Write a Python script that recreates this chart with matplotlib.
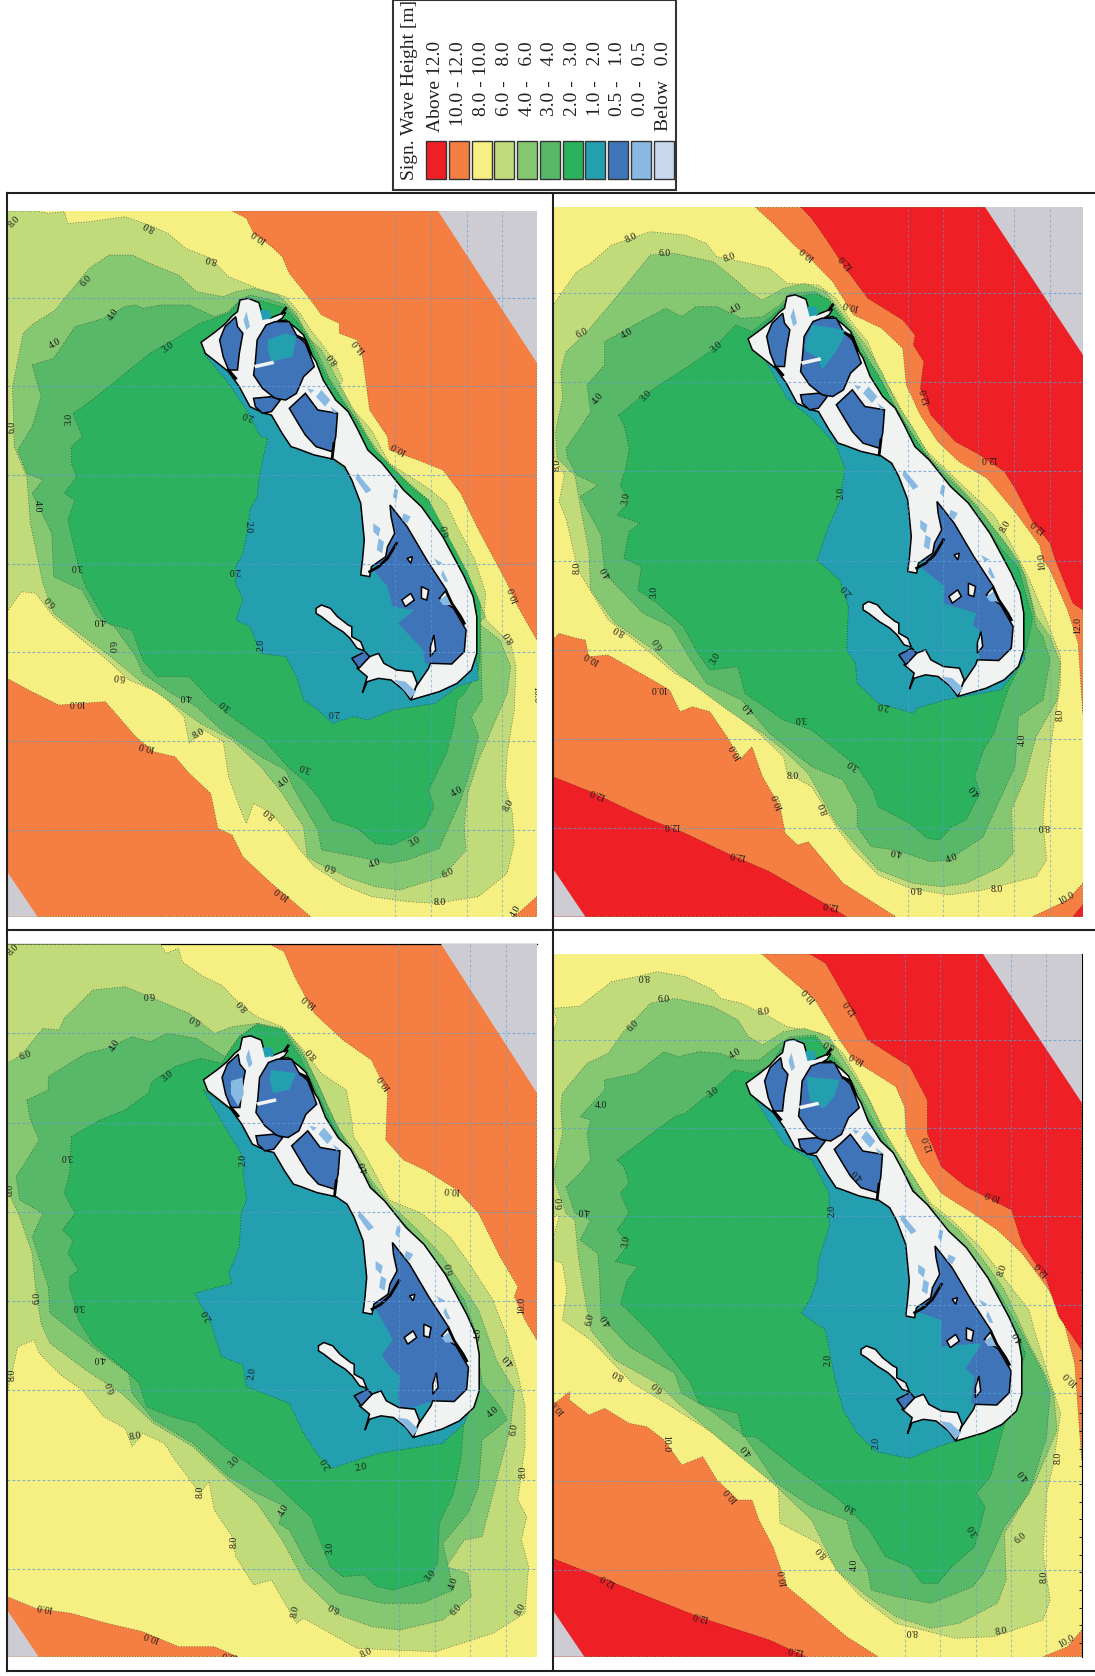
# plot.py
# Significant wave height maps, four scenarios, with a shared legend

import matplotlib
matplotlib.use('Agg')
import matplotlib.pyplot as plt
from matplotlib.patches import Polygon, Rectangle

plt.rcParams['font.family'] = ['Liberation Serif', 'DejaVu Serif']

# --- Legend ---
legend_title = 'Sign. Wave Height [m]'
legend_labels = ['Above 12.0', '10.0 - 12.0', '8.0 - 10.0', '6.0 -   8.0', '4.0 -   6.0', '3.0 -   4.0',
                 '2.0 -   3.0', '1.0 -   2.0', '0.5 -   1.0', '0.0 -   0.5', 'Below   0.0']
legend_colors = ['#ee1f25', '#f57e43', '#f6f083', '#c1db7a', '#86c872', '#57b968',
                 '#2cb25e', '#249fb0', '#3f74b9', '#88b9e2', '#c8d9ef']
RED, ORANGE, YELLOW, H68, H46, H34, H23, H12, BLUE, LIGHT, PALE = legend_colors
GRAY = '#cdccd2'
LAND = '#f1f2f2'

# --- Panel 1 contours (map grid units) ---
p1_limits = (20, 1503, 93, 2210)
p1_gray = [[(1225, 93), (1503, 93), (1503, 548)],
           [(20, 2075), (105, 2210), (20, 2210)]]
p1_orange = [[(650, 93), (690, 115), (710, 160), (760, 200), (790, 230), (810, 280), (870, 360), (900, 405),
              (950, 430), (950, 460), (1000, 480), (1015, 530), (1025, 610), (1035, 690), (1085, 770), (1090, 810),
              (1170, 840), (1240, 870), (1290, 940), (1340, 1050), (1380, 1130), (1420, 1210), (1450, 1280),
              (1503, 1380), (1503, 93)],
             [(20, 1495), (80, 1530), (165, 1575), (295, 1565), (380, 1670), (430, 1715), (490, 1730), (530, 1780),
              (590, 1840), (610, 1945), (650, 1965), (680, 2030), (760, 2110), (870, 2210), (20, 2210)],
             [(1503, 2150), (1440, 2210), (1503, 2210)]]
p1_red = []
p1_68 = [(20, 93), (105, 93), (135, 100), (180, 95), (190, 130), (250, 125), (350, 110), (430, 140), (470, 160),
         (520, 205), (590, 235), (640, 290), (720, 325), (800, 350), (840, 400), (870, 450), (900, 490), (940, 550),
         (960, 600), (940, 640), (990, 690), (1040, 750), (1070, 810), (1090, 850), (1200, 925), (1250, 970),
         (1280, 1040), (1330, 1140), (1360, 1240), (1355, 1310), (1370, 1330), (1430, 1390), (1445, 1460),
         (1440, 1590), (1420, 1720), (1415, 1820), (1435, 1900), (1440, 1990), (1420, 2080), (1340, 2150),
         (1220, 2170), (1140, 2165), (1040, 2150), (960, 2115), (880, 2060), (840, 2010), (800, 1950), (760, 1900),
         (710, 1870), (690, 1930), (670, 1880), (640, 1790), (625, 1685), (570, 1650), (530, 1690), (515, 1610),
         (450, 1540), (360, 1500), (300, 1440), (230, 1380), (150, 1310), (100, 1240), (60, 1235), (20, 1295)]
p1_46 = [(305, 225), (370, 225), (430, 255), (500, 285), (550, 335), (625, 350), (660, 335), (710, 325), (780, 345),
         (830, 400), (860, 470), (900, 510), (950, 610), (990, 690), (1030, 770), (1070, 830), (1100, 860),
         (1200, 980), (1230, 1060), (1290, 1170), (1330, 1240), (1360, 1310), (1340, 1330), (1400, 1380),
         (1430, 1460), (1420, 1540), (1380, 1640), (1340, 1740), (1310, 1840), (1300, 1940), (1305, 2010),
         (1240, 2090), (1120, 2130), (1050, 2120), (980, 2095), (900, 2055), (860, 2030), (850, 1940), (790, 1840),
         (730, 1760), (650, 1680), (560, 1630), (490, 1575), (400, 1510), (310, 1430), (210, 1350), (150, 1300),
         (120, 1210), (85, 1030), (75, 890), (40, 800), (35, 620), (50, 540), (65, 460), (95, 430), (155, 390),
         (185, 350), (250, 265)]
p1_34 = [(90, 555), (150, 535), (210, 440), (290, 415), (350, 380), (380, 375), (400, 385), (450, 375), (530, 375),
         (600, 410), (640, 395), (670, 360), (700, 345), (760, 360), (800, 375), (830, 410), (860, 460), (890, 520),
         (920, 590), (960, 660), (1000, 720), (1040, 800), (1080, 850), (1200, 960), (1240, 1060), (1300, 1180),
         (1340, 1260), (1345, 1320), (1350, 1560), (1320, 1610), (1340, 1670), (1320, 1760), (1290, 1860),
         (1240, 1980), (1230, 2005), (1140, 2040), (1090, 2050), (1000, 2030), (900, 2010), (890, 1950), (820, 1820),
         (800, 1770), (730, 1730), (620, 1650), (550, 1580), (480, 1540), (400, 1480), (380, 1430), (320, 1340),
         (270, 1310), (230, 1230), (150, 1190), (145, 1060), (90, 940), (120, 900), (75, 880), (50, 810), (90, 740),
         (115, 650)]
p1_23 = [(205, 700), (270, 650), (350, 580), (420, 520), (500, 470), (560, 430), (640, 400), (680, 355), (740, 365),
         (800, 385), (835, 430), (860, 470), (885, 530), (920, 600), (970, 680), (1010, 740), (1050, 810), (1090, 855),
         (1160, 930), (1200, 960), (1250, 1060), (1310, 1180), (1345, 1270), (1345, 1400), (1340, 1470), (1300, 1540),
         (1280, 1560), (1270, 1640), (1250, 1720), (1200, 1830), (1215, 1880), (1190, 1940), (1150, 1970), (1100, 1995),
         (1050, 1990), (1000, 1945), (930, 1920), (890, 1850), (850, 1800), (810, 1765), (740, 1680), (660, 1620),
         (590, 1560), (530, 1490), (440, 1490), (400, 1440), (370, 1350), (300, 1330), (240, 1220), (220, 1160),
         (190, 1020), (210, 960), (180, 940), (215, 890), (200, 850), (200, 800), (230, 770)]
p1_12 = [(570, 520), (640, 610), (690, 690), (730, 770), (750, 775), (735, 840), (725, 900), (720, 950), (700, 990),
         (695, 1040), (680, 1120), (660, 1160), (660, 1210), (680, 1260), (660, 1320), (700, 1340), (730, 1420),
         (800, 1430), (830, 1490), (850, 1560), (890, 1590), (930, 1630), (990, 1610), (1030, 1620), (1100, 1590),
         (1220, 1570), (1280, 1520), (1340, 1500), (1330, 1400), (1100, 1000), (930, 835), (640, 560)]
p1_xgrid = [1107, 1207, 1307, 1405]
p1_ygrid = [353, 619, 885, 1151, 1417, 1683, 1949]
p1_labels = [(40, 125, '8.0', 45), (418, 137, '8.0', 150), (725, 168, '10.0', 145), (592, 235, '8.0', 165),
             (240, 303, '6.0', 45), (318, 402, '4.0', 55), (155, 490, '4.0', 30), (472, 502, '3.0', 35),
             (1005, 500, '11.0', 130), (932, 535, '8.0', 125), (1115, 805, '10.0', 150), (35, 740, '6.0', 90),
             (192, 718, '3.0', 90), (695, 705, '2.0', 160), (105, 978, '4.0', 270), (143, 1262, '6.0', 130),
             (215, 1160, '3.0', 180), (278, 1320, '4.0', 180), (310, 1400, '6.0', 270), (333, 1490, '6.0', 170),
             (215, 1567, '10.0', 180), (410, 1698, '10.0', 165), (555, 1660, '8.0', 30), (520, 1550, '4.0', 180),
             (630, 1575, '3.0', 140), (695, 1040, '2.0', 270), (658, 1170, '2.0', 180), (730, 1395, '2.0', 90),
             (935, 1598, '2.0', 180), (855, 1762, '3.0', 160), (795, 1805, '4.0', 40), (753, 1900, '8.0', 140),
             (1048, 2050, '4.0', 20), (925, 2058, '6.0', 160), (1160, 1985, '3.0', 30), (1280, 1835, '4.0', 30),
             (1255, 2080, '6.0', 25), (1232, 2168, '8.0', 0), (1425, 1875, '8.0', 60), (790, 2140, '10.0', 145),
             (1445, 2195, '4.0', 60), (1440, 1245, '10.0', 110), (1425, 1370, '8.0', 120), (1500, 1545, '10.0', 270),
             (1250, 1050, '6.0', 100)]

# --- Panel 2 contours ---
p2_limits = (22, 1533, 67, 2195)
p2_gray = [[(1255, 67), (1533, 67), (1533, 510)],
           [(22, 2050), (115, 2195), (22, 2195)]]
p2_orange = [[(600, 67), (650, 115), (710, 180), (760, 225), (820, 290), (880, 390), (960, 430), (1020, 490),
              (1030, 600), (1070, 690), (1120, 770), (1180, 830), (1260, 880), (1300, 930), (1340, 980), (1410, 1080),
              (1420, 1125), (1440, 1155), (1490, 1275), (1520, 1375), (1533, 1585), (1533, 67)],
             [(22, 1365), (40, 1345), (90, 1360), (115, 1365), (125, 1415), (180, 1410), (290, 1475), (355, 1515),
              (385, 1580), (420, 1565), (470, 1580), (525, 1665), (555, 1725), (590, 1685), (620, 1775), (670, 1865),
              (685, 1945), (720, 1980), (750, 1970), (850, 2095), (1000, 2195), (22, 2195)],
             [(1533, 2095), (1490, 2145), (1390, 2195), (1533, 2195)]]
p2_red = [[(730, 67), (760, 100), (800, 160), (850, 240), (920, 340), (1020, 405), (1055, 450), (1050, 480), (1080, 530),
           (1070, 610), (1100, 690), (1170, 770), (1240, 810), (1310, 860), (1340, 910), (1390, 1010), (1440, 1075),
           (1455, 1125), (1505, 1255), (1533, 1275), (1533, 67)],
          [(22, 1775), (130, 1820), (290, 1900), (400, 1945), (520, 2005), (640, 2060), (780, 2145), (860, 2195), (22, 2195)],
          [(1533, 2160), (1505, 2195), (1533, 2195)]]
p2_68 = [(22, 362), (90, 260), (130, 235), (190, 180), (300, 140), (400, 150), (460, 175), (490, 215), (560, 230),
         (640, 250), (690, 295), (780, 300), (830, 340), (880, 420), (920, 470), (960, 570), (1000, 640), (1030, 710),
         (1090, 800), (1140, 850), (1220, 930), (1280, 990), (1330, 1080), (1370, 1160), (1390, 1205), (1430, 1305),
         (1470, 1415), (1470, 1495), (1450, 1625), (1430, 1775), (1420, 1905), (1430, 2025), (1400, 2075), (1250, 2115),
         (1150, 2130), (1040, 2110), (950, 2070), (880, 1995), (830, 1925), (760, 1805), (690, 1765), (680, 1715),
         (610, 1645), (470, 1525), (370, 1465), (290, 1395), (180, 1305), (100, 1165), (90, 1140), (60, 1000), (40, 950),
         (55, 870), (22, 810)]
p2_46 = [(60, 500), (120, 440), (200, 340), (300, 210), (370, 205), (480, 230), (550, 290), (580, 320), (620, 345),
         (680, 310), (740, 295), (800, 320), (870, 420), (920, 490), (960, 560), (1000, 650), (1050, 730), (1100, 820),
         (1160, 880), (1230, 960), (1300, 1060), (1340, 1120), (1380, 1215), (1400, 1295), (1440, 1355), (1470, 1435),
         (1460, 1545), (1400, 1655), (1370, 1775), (1330, 1875), (1335, 2005), (1300, 2045), (1200, 2095), (1130, 2105),
         (1050, 2095), (950, 2055), (890, 1985), (830, 1915), (750, 1765), (680, 1695), (620, 1645), (520, 1575),
         (380, 1465), (310, 1395), (200, 1315), (130, 1215), (125, 1100), (100, 960), (85, 870), (35, 820), (30, 740),
         (50, 640), (45, 560)]
p2_34 = [(65, 820), (60, 790), (100, 730), (130, 680), (120, 600), (170, 540), (170, 470), (280, 405), (345, 370),
         (390, 395), (430, 365), (490, 365), (560, 400), (620, 395), (670, 360), (700, 325), (770, 320), (810, 345),
         (870, 430), (910, 500), (950, 570), (990, 650), (1030, 720), (1080, 800), (1130, 860), (1190, 920), (1250, 990),
         (1310, 1070), (1350, 1130), (1370, 1175), (1390, 1265), (1400, 1325), (1420, 1355), (1440, 1425), (1420, 1545),
         (1350, 1595), (1340, 1745), (1270, 1905), (1250, 1955), (1150, 2025), (1100, 2030), (1000, 1995), (930, 1985),
         (890, 1925), (890, 1865), (850, 1785), (760, 1745), (640, 1645), (560, 1545), (460, 1495), (410, 1415),
         (360, 1325), (280, 1285), (170, 1165), (160, 1050), (100, 935), (150, 900), (90, 870)]
p2_23 = [(210, 690), (270, 640), (340, 590), (400, 550), (470, 500), (545, 420), (590, 440), (650, 390), (700, 340),
         (770, 325), (810, 345), (860, 430), (900, 500), (950, 570), (990, 650), (1030, 720), (1080, 800), (1120, 860),
         (1170, 925), (1240, 1000), (1300, 1090), (1350, 1150), (1390, 1300), (1370, 1405), (1320, 1515), (1310, 1545),
         (1280, 1645), (1250, 1695), (1225, 1775), (1240, 1825), (1200, 1905), (1160, 1925), (1125, 1965), (1090, 1960),
         (1040, 1915), (950, 1865), (935, 1815), (890, 1745), (760, 1635), (680, 1605), (570, 1525), (550, 1445),
         (470, 1455), (430, 1395), (395, 1325), (320, 1255), (265, 1215), (275, 1145), (225, 1120), (240, 1040),
         (270, 1015), (205, 990), (240, 950), (215, 900), (230, 850), (240, 790), (225, 720)]
p2_12 = [(625, 520), (690, 640), (760, 700), (830, 780), (855, 850), (840, 950), (810, 1020), (775, 1125), (840, 1185),
         (865, 1265), (860, 1395), (885, 1435), (890, 1495), (950, 1555), (1050, 1585), (1060, 1570), (1140, 1545),
         (1300, 1515), (1370, 1420), (1250, 1250), (1000, 850)]
p2_xgrid = [1035, 1135, 1235, 1338, 1440]
p2_ygrid = [325, 592, 858, 1127, 1395, 1662, 1929]
p2_labels = [(245, 158, '8.0', 25), (340, 205, '6.0', 0), (525, 218, '8.0', 20), (748, 205, '10.0', 140),
             (858, 230, '12.0', 130), (870, 362, '10.0', 165), (105, 445, '6.0', 25), (232, 445, '4.0', 30),
             (545, 372, '4.0', 30), (490, 487, '3.0', 40), (150, 640, '4.0', 50), (287, 632, '3.0', 45),
             (1085, 635, '12.0', 105), (1265, 820, '12.0', 180), (230, 940, '3.0', 80), (845, 925, '2.0', 90),
             (35, 840, '8.0', 90), (1312, 1025, '8.0', 60), (1407, 1025, '12.0', 140), (1418, 1130, '10.0', 95),
             (92, 1150, '8.0', 90), (175, 1160, '4.0', 120), (860, 1215, '2.0', 130), (310, 1220, '3.0', 90),
             (1520, 1320, '12.0', 90), (210, 1335, '8.0', 150), (322, 1375, '6.0', 120), (133, 1420, '10.0', 150),
             (485, 1420, '3.0', 60), (325, 1510, '10.0', 180), (580, 1570, '4.0', 130), (728, 1600, '3.0', 180),
             (965, 1560, '2.0', 170), (545, 1700, '10.0', 120), (878, 1740, '3.0', 145), (705, 1775, '8.0', 0),
             (665, 1850, '10.0', 110), (795, 1870, '8.0', 110), (150, 1825, '12.0', 160), (360, 1922, '12.0', 180),
             (548, 2010, '12.0', 170), (1225, 1815, '4.0', 125), (1360, 1665, '4.0', 90), (1470, 1590, '8.0', 90),
             (1422, 1925, '8.0', 180), (1000, 1998, '4.0', 170), (1160, 2020, '4.0', 20), (1055, 2110, '8.0', 180),
             (1288, 2112, '8.0', 0), (815, 2160, '12.0', 170), (1487, 2140, '10.0', 30)]

# --- Panel 3 contours ---
p3_limits = (20, 1503, 73, 2210)
p3_gray = [[(1235, 73), (1503, 73), (1503, 518)],
           [(20, 2070), (108, 2210), (20, 2210)]]
p3_orange = [[(755, 73), (795, 95), (825, 170), (880, 280), (960, 360), (1040, 420), (1085, 520), (1080, 660), (1130, 720),
              (1190, 750), (1280, 810), (1340, 880), (1400, 1010), (1450, 1100), (1440, 1130), (1470, 1200), (1503, 1260),
              (1503, 73)],
             [(20, 2030), (100, 2065), (200, 2080), (300, 2110), (400, 2135), (500, 2180), (600, 2180), (665, 2210), (20, 2210)]]
p3_red = []
p3_68 = [(20, 73), (450, 73), (465, 100), (500, 85), (510, 125), (570, 170), (620, 195), (680, 260), (720, 290), (790, 320),
         (850, 390), (900, 460), (970, 510), (985, 600), (990, 650), (1020, 700), (1060, 780), (1090, 840), (1180, 880),
         (1260, 950), (1320, 1040), (1380, 1140), (1420, 1250), (1450, 1360), (1470, 1460), (1470, 1580), (1450, 1740),
         (1475, 1790), (1460, 1860), (1480, 1940), (1470, 2080), (1380, 2140), (1220, 2195), (1100, 2190), (1000, 2185),
         (900, 2125), (850, 2095), (830, 2110), (760, 1980), (710, 1995), (660, 1910), (650, 1850), (600, 1770), (585, 1685),
         (560, 1720), (490, 1620), (460, 1570), (400, 1540), (370, 1580), (350, 1525), (290, 1490), (230, 1410), (170, 1365),
         (110, 1300), (95, 1260), (50, 1280), (20, 1420)]
p3_46 = [(20, 430), (60, 405), (120, 325), (165, 330), (180, 295), (260, 210), (350, 200), (430, 235), (530, 280), (600, 340),
         (650, 320), (720, 310), (800, 330), (850, 400), (880, 470), (910, 540), (950, 630), (990, 690), (1040, 780),
         (1090, 850), (1170, 930), (1240, 1010), (1290, 1090), (1340, 1170), (1390, 1320), (1440, 1410), (1430, 1520),
         (1400, 1640), (1350, 1850), (1300, 1860), (1250, 1940), (1310, 1960), (1320, 2030), (1240, 2100), (1120, 2130),
         (1040, 2120), (950, 2085), (850, 1980), (790, 1860), (720, 1750), (640, 1680), (540, 1580), (430, 1510), (340, 1420),
         (240, 1350), (140, 1270), (115, 1210), (100, 1110), (90, 1000), (55, 890), (20, 810)]
p3_34 = [(75, 540), (135, 510), (135, 470), (240, 400), (300, 385), (370, 350), (420, 365), (470, 340), (550, 355), (630, 410),
         (670, 350), (720, 310), (790, 325), (850, 410), (890, 490), (930, 590), (970, 670), (1020, 760), (1070, 840),
         (1140, 920), (1200, 1000), (1260, 1080), (1300, 1140), (1330, 1230), (1350, 1390), (1400, 1460), (1420, 1500),
         (1350, 1560), (1340, 1700), (1310, 1780), (1240, 1870), (1270, 2010), (1180, 2050), (1070, 2050), (950, 2020),
         (860, 1930), (810, 1830), (780, 1810), (800, 1760), (720, 1720), (640, 1670), (540, 1570), (430, 1500), (370, 1420),
         (360, 1360), (270, 1290), (200, 1230), (140, 1180), (135, 1100), (90, 950), (120, 880), (55, 840), (45, 770),
         (110, 660), (85, 600)]
p3_23 = [(200, 650), (280, 600), (350, 570), (415, 520), (425, 485), (490, 440), (560, 415), (620, 430), (670, 350), (720, 315),
         (790, 330), (840, 410), (880, 500), (920, 590), (960, 670), (1010, 760), (1060, 840), (1130, 930), (1190, 1010),
         (1260, 1090), (1340, 1300), (1300, 1500), (1290, 1620), (1270, 1720), (1230, 1810), (1225, 1930), (1200, 1980),
         (1100, 2010), (1055, 2000), (1020, 1965), (960, 1970), (925, 1940), (870, 1790), (760, 1680), (640, 1590), (550, 1510),
         (480, 1490), (410, 1460), (390, 1390), (350, 1350), (260, 1270), (220, 1200), (195, 1100), (195, 1070), (220, 1050),
         (190, 1000), (205, 960), (175, 930), (210, 880), (180, 820), (195, 760)]
p3_12 = [(570, 510), (640, 640), (675, 700), (690, 840), (675, 880), (670, 980), (640, 1060), (650, 1090), (545, 1120),
         (590, 1210), (620, 1310), (680, 1335), (690, 1400), (810, 1450), (850, 1540), (890, 1605), (930, 1645),
         (1000, 1620), (1060, 1600), (1240, 1570), (1300, 1510), (1340, 1400), (1230, 1300), (1000, 850)]
p3_xgrid = [1117, 1217, 1317, 1416]
p3_ygrid = [340, 608, 876, 1144, 1411, 1680, 1947]
p3_labels = [(38, 90, '8.0', 45), (415, 222, '6.0', 180), (680, 255, '8.0', 130), (865, 243, '10.0', 140),
             (545, 297, '6.0', 150), (70, 408, '6.0', 20), (320, 375, '4.0', 60), (470, 468, '3.0', 40),
             (1075, 488, '10.0', 125), (872, 400, '8.0', 130), (185, 710, '3.0', 180), (680, 720, '2.0', 90),
             (28, 810, '6.0', 90), (1265, 810, '10.0', 175), (1020, 740, '4.0', 110), (1260, 1045, '6.0', 100),
             (1460, 1155, '10.0', 90), (105, 1135, '6.0', 90), (220, 1160, '3.0', 180), (580, 1185, '2.0', 120),
             (1340, 1240, '4.0', 90), (1425, 1320, '4.0', 130), (280, 1315, '4.0', 180), (33, 1365, '8.0', 90),
             (312, 1400, '6.0', 110), (705, 1360, '2.0', 80), (380, 1550, '8.0', 10), (1380, 1475, '4.0', 40),
             (1440, 1530, '6.0', 80), (655, 1625, '3.0', 45), (1010, 1642, '2.0', 10), (915, 1630, '2.0', 120),
             (1465, 1655, '8.0', 90), (560, 1715, '8.0', 90), (795, 1770, '4.0', 60), (655, 1865, '8.0', 90),
             (925, 1885, '3.0', 90), (1205, 1967, '3.0', 50), (1270, 1990, '4.0', 70), (935, 2060, '6.0', 150),
             (1277, 2070, '6.0', 45), (828, 2075, '8.0', 80), (125, 2062, '10.0', 170), (423, 2150, '10.0', 160),
             (1458, 2068, '8.0', 60), (642, 2205, '10.0', 170), (1025, 2200, '8.0', 25)]

# --- Panel 4 contours ---
p4_limits = (22, 1530, 102, 2210)
p4_gray = [[(1250, 102), (1530, 102), (1530, 550)],
           [(22, 2070), (112, 2210), (22, 2210)]]
p4_orange = [[(618, 102), (680, 160), (770, 240), (840, 360), (880, 420), (1000, 500), (1025, 560), (1030, 640), (1070, 730),
              (1130, 820), (1220, 880), (1290, 930), (1360, 1000), (1430, 1100), (1470, 1170), (1510, 1330), (1530, 1620),
              (1530, 102)],
             [(22, 1455), (70, 1415), (70, 1440), (125, 1485), (170, 1465), (240, 1510), (290, 1520), (340, 1560), (390, 1635),
              (450, 1610), (490, 1680), (550, 1740), (590, 1740), (610, 1800), (650, 1880), (690, 2000), (770, 2070),
              (860, 2150), (950, 2210), (22, 2210)],
             [(1530, 2130), (1490, 2180), (1420, 2210), (1530, 2210)]]
p4_red = [[(755, 102), (800, 130), (860, 240), (920, 360), (1040, 440), (1090, 540), (1090, 640), (1130, 740), (1200, 800),
           (1330, 870), (1360, 970), (1430, 1080), (1465, 1190), (1530, 1290), (1530, 102)],
          [(22, 1915), (130, 1960), (270, 2020), (450, 2095), (640, 2160), (745, 2210), (22, 2210)]]
p4_68 = [(22, 265), (100, 258), (190, 185), (260, 170), (320, 155), (400, 170), (480, 210), (500, 235), (560, 250), (640, 290),
         (690, 320), (790, 340), (850, 400), (890, 470), (930, 550), (970, 640), (1000, 700), (1050, 770), (1100, 850),
         (1160, 900), (1240, 980), (1300, 1060), (1335, 1110), (1380, 1170), (1395, 1230), (1430, 1350), (1470, 1480),
         (1450, 1630), (1430, 1720), (1420, 1900), (1440, 2040), (1420, 2100), (1280, 2150), (1170, 2155), (1000, 2110),
         (900, 2030), (840, 1960), (780, 1870), (670, 1810), (665, 1700), (630, 1670), (480, 1540), (330, 1440), (250, 1390),
         (130, 1260), (50, 1200), (62, 1110), (50, 1030), (22, 1020), (22, 960), (40, 890), (22, 880), (22, 340),
         (35, 300)]
p4_46 = [(50, 520), (80, 480), (120, 430), (180, 400), (220, 340), (300, 250), (370, 235), (480, 260), (550, 300), (580, 350),
         (620, 375), (680, 335), (740, 325), (810, 350), (870, 450), (920, 530), (960, 620), (1000, 690), (1050, 770),
         (1100, 860), (1180, 930), (1250, 1020), (1310, 1110), (1380, 1270), (1420, 1350), (1450, 1420), (1460, 1530),
         (1400, 1680), (1310, 1840), (1315, 1980), (1290, 2050), (1180, 2110), (1100, 2125), (1000, 2090), (920, 2030),
         (830, 1950), (760, 1800), (650, 1690), (500, 1560), (380, 1450), (320, 1390), (200, 1320), (130, 1230), (110, 1110),
         (95, 1010), (85, 900), (60, 880), (30, 790), (25, 760), (50, 640), (45, 560)]
p4_34 = [(60, 800), (100, 760), (130, 720), (120, 640), (130, 600), (100, 590), (170, 510), (170, 480), (260, 460), (340, 395),
         (380, 410), (440, 395), (500, 400), (550, 420), (610, 420), (670, 370), (700, 350), (770, 345), (840, 430), (890, 510),
         (930, 590), (970, 660), (1010, 730), (1060, 820), (1110, 890), (1180, 970), (1240, 1040), (1290, 1110), (1360, 1240),
         (1390, 1300), (1420, 1360), (1440, 1420), (1430, 1550), (1380, 1720), (1310, 1820), (1250, 1960), (1220, 2000),
         (1100, 2050), (1000, 2030), (930, 2010), (920, 1950), (880, 1880), (860, 1800), (760, 1760), (660, 1690), (570, 1550),
         (470, 1470), (390, 1420), (370, 1360), (240, 1280), (160, 1190), (155, 1060), (150, 1000), (100, 960), (130, 900),
         (85, 880)]
p4_23 = [(205, 720), (280, 660), (370, 590), (400, 580), (470, 520), (540, 450), (590, 460), (640, 440), (690, 360), (770, 350),
         (840, 440), (880, 520), (920, 590), (960, 660), (1000, 730), (1050, 820), (1100, 890), (1170, 980), (1230, 1050),
         (1290, 1120), (1370, 1300), (1300, 1550), (1270, 1670), (1230, 1720), (1255, 1760), (1225, 1880), (1160, 1940),
         (1120, 1990), (1075, 1990), (1040, 1940), (970, 1910), (925, 1830), (840, 1740), (720, 1650), (600, 1550), (565, 1550),
         (550, 1480), (470, 1460), (440, 1450), (410, 1380), (310, 1250), (245, 1180), (215, 1150), (235, 1080), (265, 1040),
         (200, 1025), (240, 970), (205, 930), (240, 880), (215, 820), (240, 790), (225, 740)]
p4_12 = [(600, 540), (680, 670), (760, 720), (810, 820), (810, 920), (780, 1020), (775, 1080), (755, 1140), (730, 1180),
         (800, 1230), (825, 1370), (850, 1470), (890, 1540), (945, 1595), (990, 1605), (1040, 1615), (1120, 1580), (1300, 1520),
         (1360, 1420), (1250, 1250), (1000, 850)]
p4_xgrid = [1027, 1127, 1228, 1328, 1428]
p4_ygrid = [359, 625, 889, 1155, 1420, 1684, 1950]
p4_labels = [(280, 168, '8.0', 180), (337, 238, '6.0', 0), (622, 277, '8.0', 5), (250, 318, '6.0', 45), (752, 225, '10.0', 130),
             (870, 262, '12.0', 125), (540, 402, '4.0', 30), (810, 372, '6.0', 150), (888, 415, '10.0', 150),
             (480, 518, '3.0', 35), (160, 557, '4.0', 0), (1093, 672, '12.0', 110), (890, 762, '4.0', 135),
             (1275, 826, '10.0', 160), (42, 850, '6.0', 90), (110, 870, '4.0', 180), (820, 873, '2.0', 90),
             (230, 965, '3.0', 80), (1305, 1052, '8.0', 70), (1415, 1048, '12.0', 130), (128, 1198, '6.0', 80),
             (175, 1200, '4.0', 120), (1350, 1250, '4.0', 120), (1497, 1375, '10.0', 135), (808, 1320, '2.0', 90),
             (208, 1362, '8.0', 150), (320, 1400, '6.0', 135), (37, 1460, '10.0', 130), (345, 1570, '10.0', 270),
             (575, 1590, '4.0', 130), (943, 1570, '2.0', 90), (1463, 1615, '8.0', 90), (1365, 1665, '4.0', 130),
             (530, 1725, '10.0', 130), (870, 1760, '3.0', 150), (1220, 1830, '3.0', 120), (1355, 1855, '6.0', 40),
             (788, 1895, '8.0', 130), (882, 1935, '4.0', 90), (680, 1975, '10.0', 100), (178, 1980, '12.0', 150),
             (1423, 1970, '8.0', 90), (443, 2090, '12.0', 165), (1045, 2135, '8.0', 180), (1302, 2135, '8.0', 10),
             (715, 2190, '12.0', 170), (1485, 2165, '10.0', 30)]

# --- Island outlines (panel 1 grid units, reused in every panel) ---
land_main = [(563, 487), (600, 458), (630, 432), (650, 408), (665, 395), (672, 360), (695, 355), (725, 368), (732, 395),
             (755, 415), (790, 400), (800, 398), (790, 415), (775, 425), (800, 420), (830, 445), (850, 465), (870, 520),
             (885, 545), (905, 600), (940, 660), (975, 695), (1000, 745), (1030, 810), (1070, 850), (1100, 890), (1130, 930),
             (1180, 980), (1240, 1070), (1300, 1190), (1325, 1250), (1335, 1310), (1335, 1420), (1320, 1470), (1280, 1510),
             (1230, 1535), (1150, 1560), (1165, 1520), (1200, 1465), (1205, 1450), (1265, 1452), (1300, 1415), (1305, 1350),
             (1270, 1285), (1230, 1255), (1250, 1230), (1195, 1140), (1140, 1040), (1092, 975), (1095, 1010), (1105, 1060),
             (1085, 1100), (1080, 1130), (1040, 1160), (1035, 1190), (1010, 1185), (1015, 1140), (1020, 1080), (1010, 970),
             (985, 900), (965, 860), (935, 838), (880, 825), (830, 805), (815, 800), (790, 760), (760, 705), (740, 700),
             (700, 680), (670, 620), (640, 575), (575, 520)]
land_hook = [(1035, 1430), (1060, 1420), (1075, 1450), (1110, 1470), (1155, 1475), (1168, 1510), (1150, 1560), (1130, 1530),
             (1095, 1500), (1060, 1495), (1028, 1505), (1015, 1538), (1028, 1490), (1000, 1465)]
land_chain = [(885, 1285), (900, 1275), (925, 1285), (945, 1310), (975, 1335), (985, 1340), (985, 1370), (1010, 1385),
              (1020, 1412), (1000, 1405), (980, 1375), (960, 1355), (930, 1335), (900, 1310), (885, 1300)]
land_islets = [[(1125, 1260), (1150, 1240), (1160, 1260), (1135, 1280)],
               [(1180, 1220), (1200, 1230), (1195, 1260), (1180, 1255)],
               [(1205, 1400), (1215, 1365), (1220, 1410), (1205, 1430)],
               [(1140, 1135), (1155, 1130), (1150, 1150)]]
land_arm = [(710, 555), (765, 542), (768, 552), (715, 565)]
lagoon_nw = [(615, 480), (630, 440), (660, 410), (665, 440), (680, 460), (670, 520), (665, 570), (640, 570), (625, 530)]
lagoon_n = [(745, 435), (770, 425), (810, 425), (830, 465), (855, 490), (870, 530), (880, 560), (850, 590), (830, 640),
            (800, 660), (770, 655), (735, 625), (710, 585), (715, 545), (720, 480)]
lagoon_n2 = [(710, 655), (760, 650), (785, 660), (760, 695), (735, 700), (715, 680)]
lagoon_mid = [(810, 685), (855, 640), (890, 690), (945, 700), (940, 770), (930, 815), (885, 800), (855, 765), (835, 730)]
lagoon_w = [(985, 1435), (1022, 1415), (1035, 1430), (1005, 1465)]
lagoon_s = [(1105, 1500), (1135, 1505), (1165, 1535), (1150, 1555), (1130, 1530)]
lagoon_shore = [(1092, 975), (1140, 1040), (1195, 1140), (1250, 1230), (1230, 1255), (1270, 1285), (1305, 1350), (1300, 1415),
                (1265, 1452), (1205, 1450)]
inlet_teal = [(728, 390), (755, 390), (760, 415), (735, 420)]
ponds = [[(900, 630), (925, 660), (910, 680), (885, 650)],
         [(1000, 880), (1040, 930), (1025, 940), (995, 895)],
         [(1045, 1030), (1065, 1045), (1060, 1070), (1045, 1055)],
         [(1060, 1075), (1075, 1085), (1070, 1120), (1055, 1110)],
         [(1105, 925), (1115, 930), (1110, 960), (1100, 950)],
         [(1130, 1000), (1150, 1010), (1140, 1030), (1125, 1020)],
         [(1215, 1135), (1240, 1150), (1225, 1155)],
         [(1240, 1170), (1255, 1205), (1245, 1205), (1235, 1185)],
         [(860, 625), (880, 630), (870, 640)],
         [(925, 680), (945, 695), (935, 700)],
         [(1230, 1260), (1250, 1245), (1262, 1275), (1240, 1275)],
         [(690, 395), (700, 440), (690, 450), (682, 420)]]
mangrove = [[(1035, 1175), (1060, 1160), (1085, 1135), (1110, 1090)],
            [(1250, 1235), (1265, 1270), (1290, 1310), (1300, 1330)],
            [(835, 470), (855, 480), (870, 520)],
            [(935, 790), (930, 835)],
            [(640, 570), (660, 595)],
            [(790, 400), (800, 385)]]

# west edge of the southern lagoon and teal part of the north lagoon, per panel
p1_blue_edge = [(1190, 1450), (1185, 1410), (1150, 1370), (1115, 1330), (1160, 1290), (1100, 1280), (1085, 1220), (1050, 1175)]
p2_blue_edge = [(1212, 1450), (1207, 1410), (1222, 1370), (1192, 1345), (1203, 1310), (1109, 1280), (1114, 1230), (1050, 1175)]
p3_blue_edge = [(1113, 1482), (1108, 1427), (1113, 1377), (1088, 1352), (1063, 1312), (1093, 1267), (1068, 1217), (1043, 1172)]
p4_blue_edge = [(1193, 1447), (1203, 1367), (1178, 1342), (1223, 1267), (1110, 1277), (1110, 1197), (1050, 1175)]
p1_teal_n = [(750, 480), (800, 460), (830, 470), (820, 530), (760, 545), (750, 510)]
p2_teal_n = [(721, 505), (741, 445), (809, 455), (839, 465), (809, 525), (770, 580), (760, 545), (726, 525)]
p3_teal_n = [(753, 457), (823, 467), (803, 517), (758, 527), (748, 487)]
p4_teal_n = [(732, 467), (825, 477), (810, 527), (781, 562), (741, 537)]
p3_light_nw = [(640, 490), (672, 480), (676, 530), (660, 565), (640, 530)]

# --- Panel placement on the page ---
panel_fx = [0, 545, 0, 545]
panel_kx = [2.8, 2.851, 2.8, 2.851]
panel_fy = [180, 185, 920, 920]
island_dx = [0, 547, 2.4, 545]
island_dy = [0, -3.5, 737.5, 741]
W, H = 1095, 1676

fig = plt.figure(figsize=(W / 100, H / 100), dpi=100, facecolor='white')


def draw_panel(i, limits, gray, orange, red, h68, h46, h34, h23, h12, xgrid, ygrid, labels, blue_edge, teal_n):
    x0, x1, y0, y1 = limits
    fx, kx, fy = panel_fx[i], panel_kx[i], panel_fy[i]
    left, right = fx + x0 / kx, fx + x1 / kx
    top, bottom = fy + y0 / 3, fy + y1 / 3
    ax = fig.add_axes([left / W, 1 - bottom / H, (right - left) / W, (bottom - top) / H])
    ax.set_xlim(x0, x1)
    ax.set_ylim(y1, y0)
    ax.set_facecolor(YELLOW)
    ax.set_xticks([])
    ax.set_yticks([])
    for s in ax.spines.values():
        s.set_visible(False)

    def band(pts, color, z):
        ax.add_patch(Polygon(pts, closed=True, fc=color, ec='none', zorder=z))
        ax.add_patch(Polygon(pts, closed=True, fc='none', ec='#1a1a1a', lw=0.55, ls=(0, (1, 2.5)), alpha=0.75, zorder=z))

    for p in orange:
        band(p, ORANGE, 1)
    for p in red:
        band(p, RED, 2)
    for z, (p, c) in enumerate([(h68, H68), (h46, H46), (h34, H34), (h23, H23), (h12, H12)]):
        band(p, c, 3 + z)
    for p in gray:
        ax.add_patch(Polygon(p, closed=True, fc=GRAY, ec='none', zorder=8))

    # island in this panel's units
    def to_panel(pts):
        return [((x / 2.8 + island_dx[i] - fx) * kx, (180 + y / 3 + island_dy[i] - fy) * 3) for x, y in pts]

    def shape(pts, color, z, edge=True):
        ax.add_patch(Polygon(to_panel(pts), closed=True, fc=color, ec='black' if edge else 'none', lw=1.1, zorder=z))

    shape(lagoon_shore + blue_edge, BLUE, 9, edge=False)
    for p in [land_main, land_hook, land_chain]:
        shape(p, LAND, 10)
    for p in [lagoon_nw, lagoon_n, lagoon_n2, lagoon_mid, lagoon_w]:
        shape(p, BLUE, 11)
    shape(lagoon_s, LIGHT, 11, edge=False)
    shape(teal_n, H12, 12, edge=False)
    shape(inlet_teal, H12, 12, edge=False)
    shape(land_arm, LAND, 12, edge=False)
    for p in ponds:
        shape(p, LIGHT, 12, edge=False)
    for p in land_islets:
        shape(p, LAND, 12)
    if i == 2:
        shape(p3_light_nw, LIGHT, 12, edge=False)
    for p in mangrove:
        q = to_panel(p)
        ax.plot([a for a, b in q], [b for a, b in q], color='black', lw=2.0, zorder=12.5)

    # graticule
    for g in xgrid:
        ax.axvline(g, color='#5b9bd5', lw=0.8, ls=(0, (2.5, 2)), alpha=0.55, zorder=13)
    for g in ygrid:
        ax.axhline(g, color='#5b9bd5', lw=0.8, ls=(0, (2.5, 2)), alpha=0.75, zorder=13)

    for x, y, txt, rot in labels:
        ax.text(x, y, txt, fontsize=7, color='#1a1a1a', rotation=rot, rotation_mode='anchor',
                ha='center', va='center', zorder=14, clip_on=True)
    return ax


draw_panel(0, p1_limits, p1_gray, p1_orange, p1_red, p1_68, p1_46, p1_34, p1_23, p1_12,
           p1_xgrid, p1_ygrid, p1_labels, p1_blue_edge, p1_teal_n)
draw_panel(1, p2_limits, p2_gray, p2_orange, p2_red, p2_68, p2_46, p2_34, p2_23, p2_12,
           p2_xgrid, p2_ygrid, p2_labels, p2_blue_edge, p2_teal_n)
ax3 = draw_panel(2, p3_limits, p3_gray, p3_orange, p3_red, p3_68, p3_46, p3_34, p3_23, p3_12,
                 p3_xgrid, p3_ygrid, p3_labels, p3_blue_edge, p3_teal_n)
ax4 = draw_panel(3, p4_limits, p4_gray, p4_orange, p4_red, p4_68, p4_46, p4_34, p4_23, p4_12,
                 p4_xgrid, p4_ygrid, p4_labels, p4_blue_edge, p4_teal_n)

# thin top rule on panel 3, tick rule on the right of panel 4
ax3.spines['top'].set_visible(True)
ax3.spines['top'].set_linewidth(0.9)
ax4.spines['right'].set_visible(True)
ax4.spines['right'].set_linewidth(0.8)
ax4.yaxis.tick_right()
ax4.set_yticks(range(102, 2210, 53))
ax4.tick_params(axis='y', direction='in', length=2, width=0.6, labelright=False)

# --- Page frame and legend, drawn in page pixels ---
page = fig.add_axes([0, 0, 1, 1], facecolor='none')
page.set_xlim(0, W)
page.set_ylim(H, 0)
page.axis('off')
frame_color = '#231f20'
page.plot([7, W], [193, 193], color=frame_color, lw=1.5)
page.plot([7, W], [930, 930], color=frame_color, lw=1.5)
page.plot([7, W], [1671, 1671], color=frame_color, lw=1.5)
page.plot([7, 7], [193, 1671], color=frame_color, lw=1.5)
page.plot([553, 553], [193, 1671], color=frame_color, lw=1.5)

page.add_patch(Rectangle((393, 0), 283, 190, fc='white', ec='#333333', lw=1.5, zorder=5))
page.text(410, 180, legend_title, rotation=90, ha='center', va='bottom', fontsize=14, color='#222222', zorder=6)
for n, (lab, col) in enumerate(zip(legend_labels, legend_colors)):
    sx = 426 + n * 22.75
    page.add_patch(Rectangle((sx, 141), 20, 38, fc=col, ec='#333333', lw=1.0, zorder=6))
    page.text(sx + 10, 41, lab, rotation=90, ha='center', va='top', fontsize=14, color='#222222', zorder=6)

plt.savefig('out.png', dpi=100)
